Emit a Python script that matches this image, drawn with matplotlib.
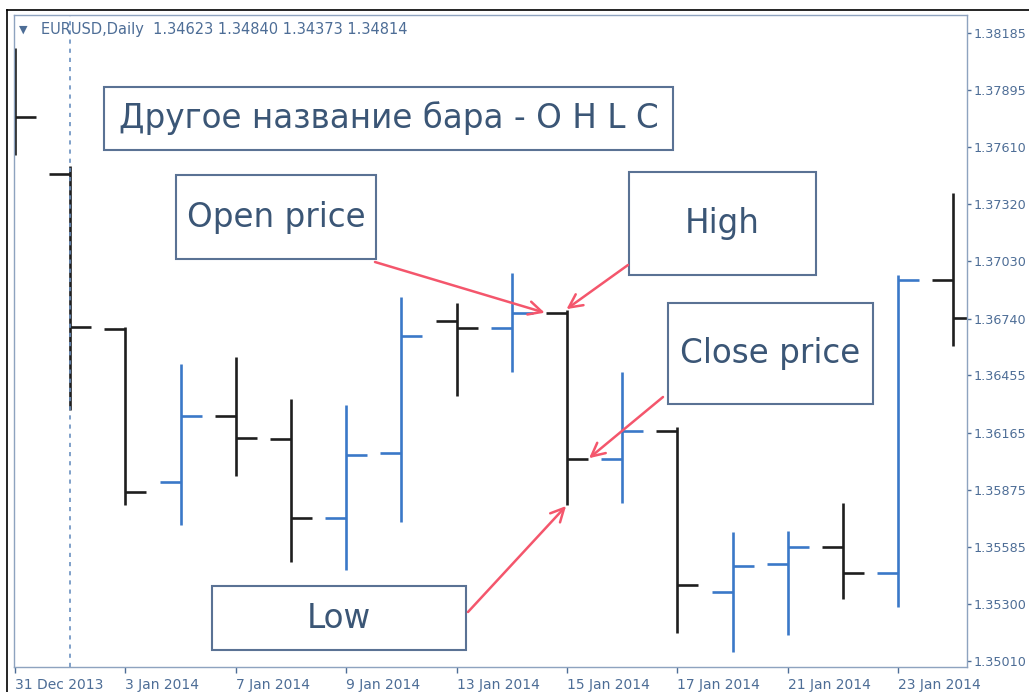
import matplotlib
import matplotlib.pyplot as plt
from matplotlib.lines import Line2D
from matplotlib.patches import Rectangle

matplotlib.use('Agg')

# Daily EURUSD bars
dates = ["31 Dec 2013", "2 Jan 2014", "3 Jan 2014", "6 Jan 2014", "7 Jan 2014", "8 Jan 2014",
         "9 Jan 2014", "10 Jan 2014", "13 Jan 2014", "14 Jan 2014", "15 Jan 2014", "16 Jan 2014",
         "17 Jan 2014", "20 Jan 2014", "21 Jan 2014", "22 Jan 2014", "23 Jan 2014", "24 Jan 2014"]
opens = [1.37950, 1.37472, 1.36690, 1.35915, 1.36248, 1.36132, 1.35733, 1.36062, 1.36729,
         1.36694, 1.36769, 1.36031, 1.36173, 1.35359, 1.35500, 1.35586, 1.35455, 1.36936]
highs = [1.38109, 1.37513, 1.36700, 1.36512, 1.36547, 1.36335, 1.36304, 1.36850, 1.36820,
         1.36972, 1.36785, 1.36471, 1.36193, 1.35662, 1.35667, 1.35809, 1.36961, 1.37376]
lows = [1.37568, 1.36279, 1.35799, 1.35698, 1.35945, 1.35511, 1.35470, 1.35713, 1.36350,
        1.36471, 1.35799, 1.35809, 1.35152, 1.35056, 1.35141, 1.35324, 1.35283, 1.36603]
closes = [1.37760, 1.36699, 1.35864, 1.36249, 1.36137, 1.35733, 1.36051, 1.36653, 1.36694,
          1.36769, 1.36031, 1.36173, 1.35394, 1.35490, 1.35586, 1.35455, 1.36936, 1.36744]

price_ticks = ["1.38185", "1.37895", "1.37610", "1.37320", "1.37030", "1.36740",
               "1.36455", "1.36165", "1.35875", "1.35585", "1.35300", "1.35010"]
header = "EURUSD,Daily  1.34623 1.34840 1.34373 1.34814"
title_note = "Другое название бара - O H L C"
labels = ["Open price", "High", "Close price", "Low"]

UP = '#3a78c8'
DOWN = '#1e1e1e'
TXT = '#3b5676'
EDGE = '#5a7294'
AXC = '#4d6d96'
ARROW = '#f4566c'

W, H = 1029, 692
fig = plt.figure(figsize=(W / 100, H / 100), dpi=100)
fig.patch.set_facecolor('white')

# plot area in pixels: x 14..967, y 15..667
ax = fig.add_axes([14 / W, (H - 667) / H, 953 / W, 652 / H])
for s in ax.spines.values():
    s.set_color('#8ea3bf')
    s.set_linewidth(1.0)

tick = 0.38
x = list(range(len(dates)))
for i in x:
    col = UP if closes[i] >= opens[i] else DOWN
    ax.vlines(i, lows[i], highs[i], color=col, lw=1.9, capstyle='butt')
    ax.hlines(opens[i], i - tick, i, color=col, lw=1.9)
    ax.hlines(closes[i], i, i + tick, color=col, lw=1.9)

# period separator (new year)
ax.axvline(1, color='#6a90c0', lw=1.2, ls=(0, (2.5, 3)))

ax.set_xlim(-0.018, 17.246)
ax.set_ylim(1.34980, 1.38276)

ax.yaxis.tick_right()
ax.set_yticks([float(v) for v in price_ticks])
ax.set_yticklabels(price_ticks)
ax.set_xticks(x[::2])
ax.set_xticklabels(dates[::2], ha='left')
ax.tick_params(axis='y', colors=AXC, labelsize=9.2, length=3, width=1, pad=2)
ax.tick_params(axis='x', colors=AXC, labelsize=10, length=4, width=1, pad=4)

# header
ax.text(0.005, 0.977, "\u25BC", transform=ax.transAxes, fontsize=8, color=AXC, va='center')
ax.text(0.028, 0.977, header, transform=ax.transAxes, fontsize=10.5, color=AXC, va='center')


def px_box(x0, y0, x1, y1):
    # pixel box -> axes fraction (left, bottom, width, height)
    return (x0 - 14) / 953, (667 - y1) / 652, (x1 - x0) / 953, (y1 - y0) / 652


def px_pt(px, py):
    return (px - 14) / 953, (667 - py) / 652


boxes = [(104, 87, 673, 150), (176, 175, 376, 259), (629, 172, 816, 275),
         (668, 303, 873, 404), (212, 586, 466, 650)]
texts = [title_note] + labels
for (x0, y0, x1, y1), t in zip(boxes, texts):
    l, b, w, h = px_box(x0, y0, x1, y1)
    ax.add_patch(Rectangle((l, b), w, h, transform=ax.transAxes, fill=True, facecolor='white',
                           edgecolor=EDGE, lw=1.5, zorder=5))
    ax.text(l + w / 2, b + h / 2, t, transform=ax.transAxes, ha='center', va='center',
            fontsize=23.5, color=TXT, zorder=6)

# arrows pointing at bar of 15 Jan 2014
k = 10
targets = [(k - tick, opens[k]), (k - 0.03, highs[k]), (k + tick, closes[k]), (k, lows[k])]
starts = [px_pt(375, 262), px_pt(628, 265), px_pt(663, 397), px_pt(468, 612)]
for xy, st in zip(targets, starts):
    ax.annotate('', xy=xy, xytext=st, textcoords='axes fraction',
                arrowprops=dict(arrowstyle='->', color=ARROW, lw=1.8, mutation_scale=24,
                                shrinkA=0, shrinkB=1), zorder=7)

# outer frame lines
fig.add_artist(Line2D([7 / W, 1], [1 - 10 / H, 1 - 10 / H], color='black', lw=1.2))
fig.add_artist(Line2D([7 / W, 7 / W], [0, 1 - 10 / H], color='black', lw=1.2))

plt.savefig('out.png', dpi=100)
plt.close()
